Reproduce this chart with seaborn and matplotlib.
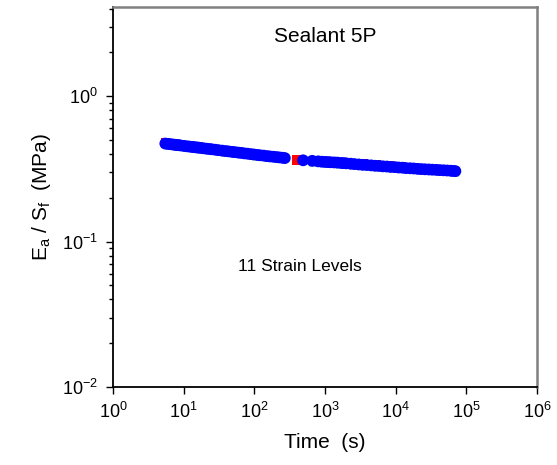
import matplotlib
matplotlib.use("Agg")
import matplotlib.pyplot as plt
import seaborn as sns
import pandas as pd
import numpy as np
from matplotlib.ticker import LogLocator, NullLocator, LogFormatterSciNotation, NullFormatter

# ---- data ----
time_blue = [5.5, 6, 6.5, 7, 7.5, 8, 8.5, 9, 10, 11, 12, 13, 14, 15, 16, 17, 19, 21, 23, 25,
             28, 31, 35, 39, 43, 48, 53, 59, 65, 72, 80, 89, 98, 110, 120, 135, 150, 165,
             185, 205, 225, 250, 270,
             490, 660, 800, 900, 1000, 1100, 1200, 1350, 1500, 1700, 1850, 2000, 2300, 2600,
             3000, 3400, 3900, 4500, 5100, 5800, 6600, 7500, 8500, 9700, 11000, 12500, 14000,
             16000, 18000, 20500, 23000, 26000, 29500, 33000, 37500, 42000, 47500, 53500,
             60000, 65000, 70000]
value_blue = [0.472, 0.469, 0.467, 0.465, 0.463, 0.461, 0.460, 0.458, 0.455, 0.452, 0.450,
              0.448, 0.446, 0.444, 0.443, 0.441, 0.438, 0.435, 0.433, 0.431,
              0.428, 0.425, 0.422, 0.419, 0.417, 0.414, 0.412, 0.409, 0.407, 0.404, 0.402,
              0.399, 0.397, 0.394, 0.392, 0.390, 0.387, 0.385, 0.383, 0.381, 0.379, 0.377,
              0.375,
              0.362, 0.359, 0.356, 0.354, 0.353, 0.352, 0.351, 0.350, 0.349, 0.347, 0.346,
              0.345, 0.343, 0.341, 0.339, 0.337, 0.336, 0.334, 0.332, 0.331, 0.329, 0.328,
              0.326, 0.325, 0.323, 0.322, 0.320, 0.319, 0.318, 0.316, 0.315, 0.314, 0.313,
              0.312, 0.311, 0.310, 0.309, 0.308, 0.307, 0.306, 0.305]

time_red = [5.5, 7, 9, 12, 16, 22, 30, 42, 60, 85, 120, 170, 240, 400,
            700, 1000, 1500, 2300, 3500, 5300, 8000, 12000, 18000, 27000, 40000, 55000, 66000]
value_red = [0.476, 0.468, 0.461, 0.453, 0.445, 0.437, 0.429, 0.420, 0.411, 0.402, 0.394,
             0.387, 0.379, 0.362,
             0.359, 0.355, 0.350, 0.345, 0.340, 0.335, 0.331, 0.326, 0.321, 0.317, 0.313,
             0.310, 0.307]

time_green = [6, 8, 11, 15, 20, 28, 40, 56, 80, 110, 160, 230,
              700, 1100, 1700, 2600, 4000, 6000, 9000, 13500, 20000, 30000, 45000, 68000]
value_green = [0.466, 0.459, 0.450, 0.442, 0.434, 0.425, 0.416, 0.407, 0.399, 0.391, 0.384,
               0.376,
               0.355, 0.349, 0.344, 0.339, 0.334, 0.329, 0.324, 0.320, 0.315, 0.311, 0.307,
               0.303]

series_names = ["red", "green", "blue"]
series_colors = {"red": "#ff0000", "green": "#00c000", "blue": "#0000ff"}
series_markers = {"red": "s", "green": "^", "blue": "o"}
series_sizes = {"red": 48, "green": 48, "blue": 72}

x_ticks = [1e0, 1e1, 1e2, 1e3, 1e4, 1e5, 1e6]
y_ticks = [1e-2, 1e-1, 1e0]

df = pd.concat([
    pd.DataFrame({"t": time_red, "v": value_red, "s": "red"}),
    pd.DataFrame({"t": time_green, "v": value_green, "s": "green"}),
    pd.DataFrame({"t": time_blue, "v": value_blue, "s": "blue"}),
], ignore_index=True)

sns.set_theme(style="white")
plt.rcParams["font.family"] = ["Liberation Sans", "DejaVu Sans"]
plt.rcParams["mathtext.fontset"] = "custom"
plt.rcParams["mathtext.rm"] = "Liberation Sans"
plt.rcParams["mathtext.it"] = "Liberation Sans"
plt.rcParams["mathtext.bf"] = "Liberation Sans:bold"
plt.rcParams["text.color"] = "black"
plt.rcParams["axes.labelcolor"] = "black"
plt.rcParams["xtick.color"] = "black"
plt.rcParams["ytick.color"] = "black"

fig = plt.figure(figsize=(5.57, 4.65), dpi=100)
ax = fig.add_axes([113 / 557, 1 - 387 / 465, (537 - 113) / 557, (387 - 7) / 465])

sns.scatterplot(data=df, x="t", y="v", hue="s", style="s", size="s", sizes=series_sizes,
                palette=series_colors, markers=series_markers, hue_order=series_names,
                style_order=series_names, size_order=series_names,
                edgecolor="none", linewidth=0, legend=False, ax=ax)

ax.set_xscale("log")
ax.set_yscale("log")
ax.set_xlim(1e0, 1e6)
ax.set_ylim(1e-2, 4.1)

ax.set_xticks(x_ticks)
ax.xaxis.set_minor_locator(NullLocator())
ax.set_yticks(y_ticks)
ax.yaxis.set_minor_locator(LogLocator(base=10, subs=np.arange(2, 10), numticks=20))
ax.yaxis.set_minor_formatter(NullFormatter())
ax.xaxis.set_major_formatter(LogFormatterSciNotation())
ax.yaxis.set_major_formatter(LogFormatterSciNotation())

ax.tick_params(axis="both", which="major", direction="out", length=5, width=1,
               color="black", labelcolor="black", labelsize=13, pad=6,
               bottom=True, left=True)
ax.tick_params(axis="y", which="minor", direction="out", length=3, width=1,
               color="black", left=True)

for side in ["left", "bottom"]:
    ax.spines[side].set_color("black")
    ax.spines[side].set_linewidth(1.3)
for side in ["top", "right"]:
    ax.spines[side].set_color("#808080")
    ax.spines[side].set_linewidth(1.8)

ax.set_xlabel("Time  (s)", fontsize=15, labelpad=8, color="black")
ax.set_ylabel(r"E$_\mathrm{a}$ / S$_\mathrm{f}$  (MPa)", fontsize=15, labelpad=6, color="black")

ax.text(0.5, 0.922, "Sealant 5P", transform=ax.transAxes, ha="center", va="center",
        fontsize=15, color="black")
ax.text(0.44, 0.318, "11 Strain Levels", transform=ax.transAxes, ha="center", va="center",
        fontsize=12.5, color="black")

fig.savefig("out.png", dpi=100)
